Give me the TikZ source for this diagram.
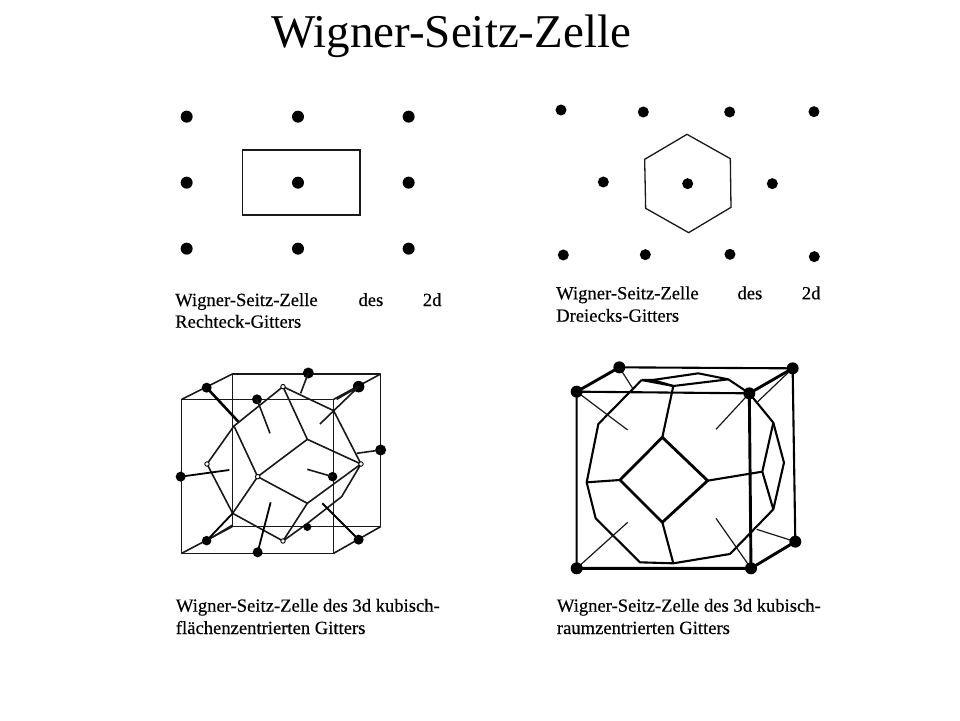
\documentclass[tikz,border=0pt]{standalone}
\usepackage{fontspec}
\setmainfont{Liberation Serif}
\newfontfamily\capfont[FakeBold=0.35]{Liberation Serif}
\tikzset{
  lat/.style={circle,fill=black,draw=none,inner sep=0pt,minimum size=#1},
  lat/.default=11pt,
  hollow/.style={circle,fill=white,draw=black,line width=0.9pt,inner sep=0pt,minimum size=4.5pt},
  captxt/.style={anchor=base west,inner sep=0pt,font=\capfont\fontsize{18.6}{20}\selectfont,text=black},
  ttl/.style={anchor=base west,inner sep=0pt,font=\fontsize{47}{50}\selectfont},
  thinl/.style={line width=1.2pt,black!90},
  wsl/.style={line width=1.6pt,black!90,line join=round},
  wsr/.style={line width=2.1pt,black,line join=round},
  heavy/.style={line width=2.9pt,black,line join=round},
  zoomed/.style={x=0.3333pt,y=-0.3333pt},
}
\begin{document}
\begin{tikzpicture}[x=1pt,y=-1pt]
\useasboundingbox[fill=white] (0,0) rectangle (960,720);
\node[ttl] (title) at (271,47) {Wigner-Seitz-Zelle};

% ---- 2d rectangular
\begin{scope}[shift={(160,90)},zoomed]
\node[draw,line width=1.6pt,black!90,minimum width=117.3pt,minimum height=65pt,inner sep=0pt,anchor=north west] (rect) at (245,177) {};
\foreach \n/\x/\y in {a1/80/80,a2/414/80,a3/746/80,a4/80/278,a5/414/278,a6/746/278,a7/80/476,a8/414/476,a9/746/476}
  \node[lat=12pt] (\n) at (\x,\y) {};
\end{scope}
\node[captxt] (c1a) at (175,306) {Wigner-Seitz-Zelle};
\node[captxt] (c1b) at (358.3,306) {des};
\node[captxt] (c1c) at (422.7,306) {2d};
\node[captxt] (c1d) at (175,327.7) {Rechteck-Gitters};

% ---- 2d triangular
\begin{scope}[shift={(540,90)},zoomed]
\coordinate (h1) at (441,133);
\coordinate (h2) at (571,206);
\coordinate (h3) at (573,352);
\coordinate (h4) at (446,428);
\coordinate (h5) at (317,355);
\coordinate (h6) at (314,208);
\draw[line width=1.3pt,black!90] (h1)--(h2)--(h3)--(h4)--(h5)--(h6)--cycle;
\foreach \n/\x/\y in {b1/63/60,b2/310/66,b3/569/66,b4/822/65,b5/190/276,b6/443/281,b7/697/281,b8/70/495,b9/316/494,b10/570/493,b11/823/500}
  \node[lat=11pt] (\n) at (\x,\y) {};
\end{scope}
\node[captxt] (c2a) at (556,299.3) {Wigner-Seitz-Zelle};
\node[captxt] (c2b) at (737.3,299.3) {des};
\node[captxt] (c2c) at (801.7,299.3) {2d};
\node[captxt] (c2d) at (556,321.7) {Dreiecks-Gitters};

% ---- 3d fcc
\begin{scope}[shift={(160,350)},zoomed]
\coordinate (f1) at (65,148);
\coordinate (f2) at (521,148);
\coordinate (f3) at (521,610);
\coordinate (f4) at (65,610);
\coordinate (g1) at (217,72);
\coordinate (g2) at (662,72);
\coordinate (g3) at (662,530);
\coordinate (g4) at (217,530);
\draw[wsl] (f1)--(f2)--(f3)--(f4)--cycle;
\draw[wsl] (g4)--(g1)--(g2)--(g3)--(g4);
\draw[wsl] (f1)--(g1) (f2)--(g2) (f3)--(g3) (f4)--(g4);
\coordinate (v1) at (369,110);
\coordinate (v2) at (222,228);
\coordinate (v3) at (141,342);
\coordinate (v4) at (218,490);
\coordinate (v5) at (369,573);
\coordinate (v6) at (442,460);
\coordinate (v7) at (603,342);
\coordinate (v8) at (521,182);
\coordinate (v9) at (293,380);
\coordinate (v10) at (442,268);
\coordinate (v11) at (440,522);
\coordinate (v12) at (545,440);
\draw[wsl] (v1)--(v2)--(v3)--(v4)--(v5)--(v6)--(v7)--(v8)--cycle;
\draw[wsl] (v2)--(v9)--(v10)--(v1) (v10)--(v7) (v9)--(v6) (v9)--(v4);
\draw[wsl] (v5)--(v11)--(v12)--(v7);
\foreach \n/\x/\y/\s in {d1/445/69/11pt,d2/596/110/11.5pt,d3/140/113/10pt,d4/291/148/10pt,d5/662/300/11pt,d6/62/380/10pt,d7/518/380/9.5pt,d8/442/531/8pt,d9/140/572/9.5pt,d10/596/569/10pt,d11/293/607/10pt}
  \node[lat=\s] (\n) at (\x,\y) {};
\coordinate (s1) at (235,215);
\coordinate (s2) at (330,250);
\coordinate (s3) at (422,130);
\coordinate (s4) at (480,222);
\coordinate (s5) at (530,148);
\coordinate (s6) at (590,310);
\coordinate (s7) at (208,360);
\coordinate (s8) at (442,358);
\coordinate (s10) at (218,525);
\coordinate (s11) at (487,460);
\coordinate (s12) at (332,457);
\draw[line width=2.6pt] (d3.center)--(s1);
\draw[wsl] (d4.center)--(s2) (d1.center)--(s3) (d2.center)--(s4) (d2.center)--(s5)
  (d5.center)--(s6) (d7.center)--(s8) (d9.center)--(s10);
\draw[line width=1.8pt] (d6.center)--(s7) (d10.center)--(s11) (d11.center)--(s12) (d9.center)--(v4);
\foreach \n/\c in {o1/v1,o2/v3,o3/v7,o4/v9,o5/v5}
  \node[hollow] (\n) at (\c) {};
\end{scope}
\node[captxt] (c3a) at (175.7,611.7) {Wigner-Seitz-Zelle des 3d kubisch-};
\node[captxt] (c3b) at (175.7,634) {flächenzentrierten Gitters};

% ---- 3d bcc
\begin{scope}[shift={(560,350)},zoomed]
\foreach \n/\x/\y in {e1/50/125,e2/178/52,e3/698/55,e4/568/130,e5/706/575,e6/573/655,e7/50/655}
  \coordinate (\n) at (\x,\y);
\draw[heavy] (e1)--(e2) (e7)--(e6)--(e4)--(e3) (e6)--(e5);
\draw[wsr] (e2)--(e3)--(e5) (e1)--(e4) (e1)--(e7);
\coordinate (q1) at (245,90);
\coordinate (q2) at (115,222);
\coordinate (q3) at (80,397);
\coordinate (q4) at (107,505);
\coordinate (q5) at (240,637);
\coordinate (q6) at (340,640);
\coordinate (q7) at (510,612);
\coordinate (q8) at (640,478);
\coordinate (q9) at (672,338);
\coordinate (q10) at (640,218);
\coordinate (q11) at (505,88);
\coordinate (q12) at (415,70);
\coordinate (q13) at (278,90);
\coordinate (q14) at (340,108);
\coordinate (q15) at (607,365);
\coordinate (m1) at (307,262);
\coordinate (m2) at (443,392);
\coordinate (m3) at (307,517);
\coordinate (m4) at (180,390);
\draw[wsr] (q1)--(q2)--(q3)--(q4)--(q5)--(q6)--(q7)--(q8)--(q9)--(q10)--(e4);
\draw[wsr] (e4)--(q11)--(q12)--(q13)--(q1);
\draw[wsr] (q13)--(q14)--(q11);
\draw[wsr] (q1)--(q14);
\draw[line width=2.8pt,line join=round] (m1)--(m2)--(m3)--(m4)--cycle;
\draw[wsr] (q14)--(m1) (m4)--(q3) (m2)--(q15) (m3)--(q6) (q10)--(q15)--(q8);
\coordinate (t1) at (203,240);
\coordinate (t2) at (468,238);
\coordinate (t3) at (203,517);
\coordinate (t4) at (468,505);
\coordinate (t5) at (218,115);
\coordinate (t6) at (588,160);
\coordinate (t7) at (590,538);
\draw[thinl] (e1)--(t1) (e4)--(t2) (e7)--(t3) (e6)--(t4) (e2)--(t5) (e3)--(t6) (e5)--(t7);
\foreach \n/\c in {n1/e1,n2/e2,n3/e3,n4/e4,n5/e5,n6/e6,n7/e7}
  \node[lat=12pt] (\n) at (\c) {};
\end{scope}
\node[captxt] (c4a) at (556.7,611.7) {Wigner-Seitz-Zelle des 3d kubisch-};
\node[captxt] (c4b) at (556.7,634) {raumzentrierten Gitters};
\end{tikzpicture}
\end{document}
